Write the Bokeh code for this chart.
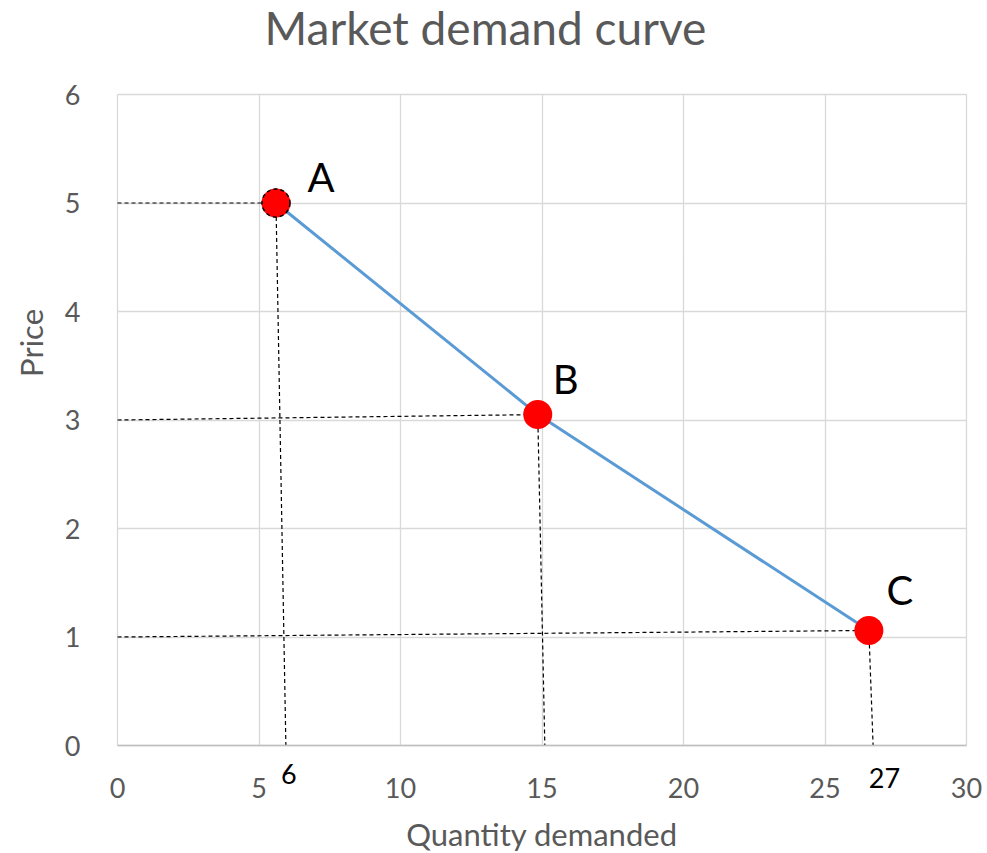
import math
from bokeh.plotting import figure
from bokeh.models import Label, Range1d, FixedTicker
from bokeh.embed import file_html
from bokeh.resources import INLINE

# data
point_names = ["A", "B", "C"]
quantity = [5.6, 14.85, 26.55]
price = [5.0, 3.05, 1.06]
# dashed guide ends (hand drawn in the original)
guide_h_start_price = [5.0, 3.0, 1.0]
guide_v_foot_qty = [5.95, 15.1, 26.7]
foot_labels = ["6", "27"]
foot_label_qty = [6.05, 27.1]
x_ticks = [0, 5, 10, 15, 20, 25, 30]
y_ticks = [0, 1, 2, 3, 4, 5, 6]

FONT = "Lato"
GREY = "#595959"

W, H = 987, 853
# pixel geometry of the plotting area (frame fills canvas)
X0PX, X30PX = 117, 966
Y0PX, Y6PX = 745, 94
ppx = (X30PX - X0PX) / 30.0
ppy = (Y0PX - Y6PX) / 6.0
x_range = Range1d(-X0PX / ppx, (W - X0PX) / ppx)
y_range = Range1d(-(H - Y0PX) / ppy, Y0PX / ppy)

p = figure(width=W, height=H, output_backend="svg", toolbar_location=None,
           x_range=x_range, y_range=y_range, min_border=0, title=None)
p.outline_line_color = None
p.background_fill_color = "white"
p.border_fill_color = "white"

p.xaxis.ticker = FixedTicker(ticks=x_ticks)
p.yaxis.ticker = FixedTicker(ticks=y_ticks)
p.xaxis.fixed_location = 0
p.yaxis.fixed_location = 0
p.xaxis.bounds = (0, 30)
p.yaxis.bounds = (0, 6)
p.xgrid.ticker = FixedTicker(ticks=x_ticks)
p.ygrid.ticker = FixedTicker(ticks=y_ticks)
p.xgrid.cross_bounds = (0, 6)
p.ygrid.cross_bounds = (0, 30)
p.grid.grid_line_color = "#d9d9d9"
p.grid.grid_line_width = 1.3

for ax in (p.xaxis, p.yaxis):
    ax.major_tick_line_color = None
    ax.minor_tick_line_color = None
    ax.major_label_text_font = FONT
    ax.major_label_text_font_size = "27px"
    ax.major_label_text_color = GREY
    ax.axis_label_text_font = FONT
    ax.axis_label_text_font_style = "normal"
    ax.axis_label_text_color = GREY
    ax.axis_label_text_font_size = "31px"
p.xaxis.axis_line_color = "#bfbfbf"
p.xaxis.axis_line_width = 1.5
p.yaxis.axis_line_color = None
p.xaxis.major_label_standoff = 26
p.yaxis.major_label_standoff = 31
p.xaxis.axis_label = "Quantity demanded"
p.xaxis.axis_label_standoff = 14

# dashed guides
p.segment(x0=[0] * 3, y0=guide_h_start_price, x1=quantity, y1=price,
          line_color="black", line_width=1.2, line_dash="4 3")
p.segment(x0=quantity, y0=price, x1=guide_v_foot_qty, y1=[0] * 3,
          line_color="black", line_width=1.2, line_dash="4 3")

# demand curve
p.line(quantity, price, line_color="#5b9bd5", line_width=3)

# points
p.scatter(quantity, price, size=29, fill_color="#ff0000", line_color=None)
p.scatter(quantity[:1], price[:1], size=28, fill_color=None, line_color="black",
          line_width=1.5, line_dash="4 3")

# point letters (offset in screen pixels from each point)
letter_dx = [45, 28, 31]
letter_dy = [26, 36, 40]
for name, q, pr, dx, dy in zip(point_names, quantity, price, letter_dx, letter_dy):
    p.add_layout(Label(x=q, y=pr, x_offset=dx, y_offset=dy, text=name, text_font=FONT,
                       text_font_size="40px", text_color="black",
                       text_align="center", text_baseline="middle"))

# foot labels under axis
foot_label_y = [-0.26, -0.30]
for t, q, fy in zip(foot_labels, foot_label_qty, foot_label_y):
    p.add_layout(Label(x=q, y=fy, text=t, text_font=FONT,
                       text_font_size="27px", text_color="black",
                       text_align="center", text_baseline="middle"))

# title
p.add_layout(Label(x=13.0, y=6.62, text="Market demand curve", text_font=FONT,
                   text_font_size="46px", text_color=GREY,
                   text_align="center", text_baseline="middle"))
# y axis label
p.add_layout(Label(x=-3.07, y=3.71, text="Price", text_font=FONT,
                   text_font_size="31px", text_color=GREY, angle=math.pi / 2,
                   text_align="center", text_baseline="middle"))

open("out.html", "w").write(file_html(p, INLINE))
